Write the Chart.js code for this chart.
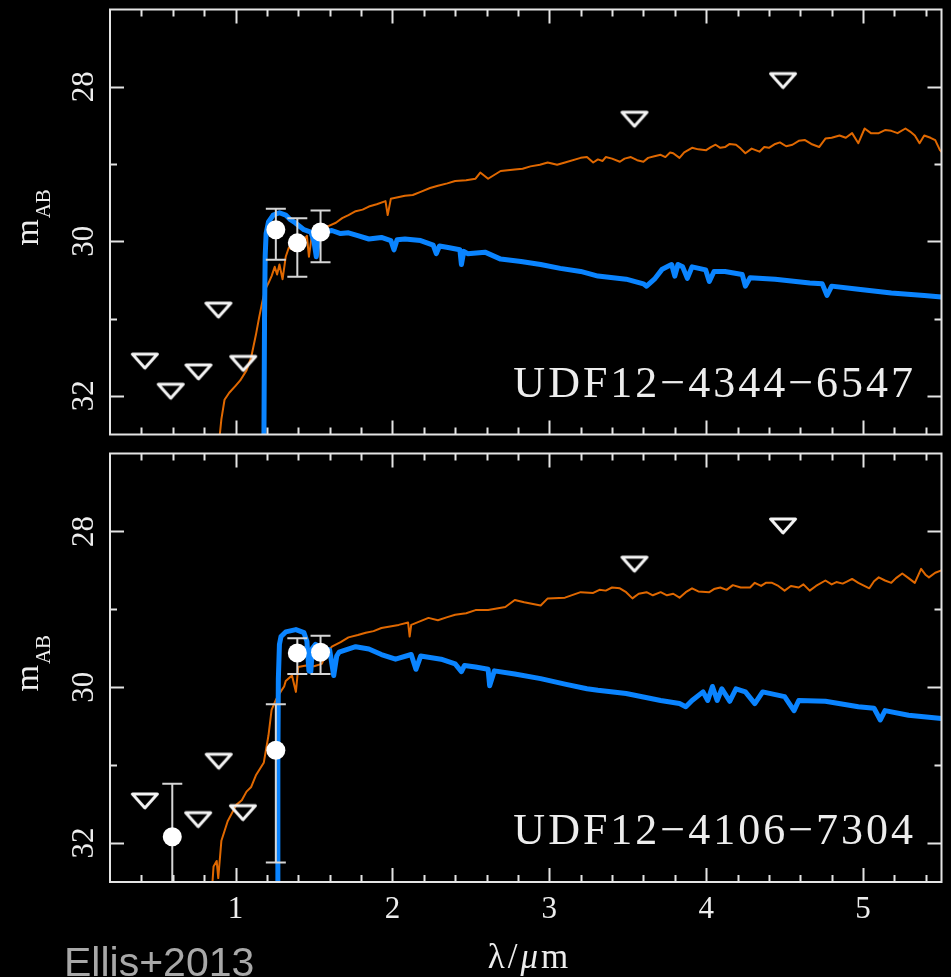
<!DOCTYPE html>
<html>
<head>
<meta charset="utf-8">
<title>UDF12 SED fits</title>
<script src="https://cdn.jsdelivr.net/npm/chart.js@4.4.1/dist/chart.umd.min.js"></script>
<style>
  html, body { margin: 0; padding: 0; background: #000; }
  body { width: 951px; height: 977px; position: relative; overflow: hidden; }
  canvas { position: absolute; left: 0; }
  #top-panel { top: 0; }
  #bottom-panel { top: 444px; }
</style>
</head>
<body>
<canvas id="top-panel" width="951" height="444"></canvas>
<canvas id="bottom-panel" width="951" height="533"></canvas>
<script>
// axis ranges and labelled ticks
const xRange = [0.2, 5.5];
const yRange = [27, 32.5];
const xTickLabels = [1, 2, 3, 4, 5];
const yTickLabels = [28, 30, 32];

// --- UDF12-4344-6547 ---
const topDetLam = [1.257, 1.394, 1.542];
const topDetMag = [29.85, 30.02, 29.88];
const topDetErrLo = [29.58, 29.70, 29.60];
const topDetErrHi = [30.24, 30.46, 30.27];

const topLimLam = [0.422, 0.587, 0.764, 0.891, 1.049, 3.543, 4.49];
const topLimMag = [31.55, 31.94, 31.69, 30.89, 31.58, 28.42, 27.92];

// high-z star forming template
const topBlueLam = [1.180, 1.185, 1.189, 1.195, 1.21, 1.24, 1.28, 1.32, 1.35, 1.38, 1.436, 1.48, 1.50, 1.515, 1.53,
  1.544, 1.614, 1.67, 1.72, 1.785, 1.85, 1.93, 1.99, 2.01, 2.03, 2.08, 2.18, 2.26, 2.28, 2.30, 2.355, 2.43, 2.44,
  2.455, 2.48, 2.59, 2.69, 2.82, 2.945, 3.07, 3.20, 3.31, 3.49, 3.60, 3.62, 3.67, 3.72, 3.76, 3.78, 3.80, 3.82,
  3.85, 3.88, 3.91, 3.997, 4.02, 4.05, 4.12, 4.23, 4.25, 4.28, 4.44, 4.66, 4.74, 4.77, 4.80, 4.97, 5.18, 5.39, 5.5];
const topBlueMag = [33.0, 31.0, 30.2, 29.9, 29.75, 29.66, 29.63, 29.66, 29.72, 29.76, 29.85, 29.88, 30.0, 30.2, 29.95,
  29.89, 29.86, 29.90, 29.89, 29.93, 29.97, 29.95, 29.99, 30.11, 29.98, 29.97, 29.99, 30.05, 30.16, 30.06, 30.08, 30.11, 30.30,
  30.13, 30.16, 30.14, 30.23, 30.26, 30.30, 30.35, 30.39, 30.45, 30.49, 30.55, 30.58, 30.49, 30.36, 30.32, 30.30, 30.45, 30.30,
  30.33, 30.48, 30.33, 30.37, 30.52, 30.39, 30.39, 30.43, 30.58, 30.47, 30.49, 30.54, 30.55, 30.70, 30.58, 30.62, 30.67, 30.70, 30.72];

// low-z evolved template
const topOrangeLam = [0.895, 0.91, 0.93, 0.96, 1.00, 1.03, 1.07, 1.10, 1.13, 1.15, 1.17, 1.19, 1.21, 1.23, 1.25, 1.265,
  1.28, 1.30, 1.32, 1.34, 1.37, 1.40, 1.455, 1.468, 1.487, 1.54, 1.595, 1.64, 1.68, 1.72, 1.766, 1.81, 1.85, 1.90, 1.956,
  1.97, 1.99, 2.08, 2.13, 2.18, 2.24, 2.29, 2.35, 2.40, 2.47, 2.53, 2.56, 2.61, 2.69, 2.78, 2.83, 2.88, 2.94, 2.99, 3.05,
  3.10, 3.20, 3.24, 3.28, 3.31, 3.34, 3.36, 3.40, 3.45, 3.48, 3.52, 3.56, 3.60, 3.63, 3.67, 3.71, 3.74, 3.77, 3.79, 3.83,
  3.86, 3.91, 3.95, 4.00, 4.03, 4.06, 4.09, 4.12, 4.15, 4.19, 4.22, 4.25, 4.29, 4.34, 4.37, 4.40, 4.44, 4.47, 4.51, 4.55,
  4.59, 4.63, 4.67, 4.72, 4.76, 4.80, 4.85, 4.89, 4.93, 4.97, 5.01, 5.05, 5.10, 5.14, 5.18, 5.22, 5.27, 5.30, 5.33, 5.36,
  5.39, 5.43, 5.46, 5.49, 5.5];
const topOrangeMag = [32.6, 32.3, 32.05, 31.96, 31.87, 31.80, 31.67, 31.50, 31.21, 30.99, 30.79, 30.62, 30.54, 30.45, 30.33, 30.43,
  30.30, 30.49, 30.20, 30.08, 30.11, 30.08, 29.93, 30.20, 29.91, 29.86, 29.80, 29.76, 29.70, 29.66, 29.61, 29.59, 29.55, 29.52, 29.48,
  29.66, 29.45, 29.41, 29.40, 29.36, 29.31, 29.28, 29.25, 29.22, 29.21, 29.19, 29.11, 29.19, 29.09, 29.07, 29.06, 29.03, 29.01, 28.98, 29.01,
  28.98, 28.92, 28.91, 28.98, 28.94, 28.96, 28.91, 28.93, 28.97, 28.93, 28.91, 28.95, 28.97, 28.92, 28.90, 28.88, 28.91, 28.85, 28.86, 28.92,
  28.85, 28.79, 28.81, 28.82, 28.78, 28.75, 28.79, 28.78, 28.74, 28.75, 28.80, 28.86, 28.80, 28.84, 28.78, 28.79, 28.74, 28.72, 28.77, 28.75,
  28.70, 28.69, 28.74, 28.78, 28.67, 28.66, 28.63, 28.66, 28.60, 28.73, 28.54, 28.60, 28.60, 28.56, 28.57, 28.60, 28.54, 28.58, 28.63, 28.73,
  28.63, 28.66, 28.69, 28.82, 28.84];

// --- UDF12-4106-7304 ---
const botDetLam = [0.597, 1.257, 1.394, 1.542];
const botDetMag = [31.92, 30.81, 29.56, 29.55];
const botDetErrLo = [31.24, 30.22, 29.37, 29.34];
const botDetErrHi = [33.5, 32.25, 29.83, 29.83];

const botLimLam = [0.422, 0.762, 0.893, 1.047, 3.543, 4.49];
const botLimMag = [31.46, 31.70, 30.95, 31.61, 28.42, 27.93];

const botBlueLam = [1.268, 1.270, 1.273, 1.28, 1.29, 1.32, 1.385, 1.436, 1.455, 1.468, 1.48, 1.49, 1.51, 1.544, 1.60,
  1.626, 1.645, 1.66, 1.766, 1.85, 1.93, 2.02, 2.12, 2.15, 2.18, 2.31, 2.40, 2.44, 2.46, 2.53, 2.61, 2.62, 2.65, 2.78,
  2.945, 3.10, 3.24, 3.31, 3.49, 3.71, 3.83, 3.87, 3.91, 3.98, 4.01, 4.04, 4.07, 4.10, 4.15, 4.19, 4.25, 4.31, 4.36,
  4.50, 4.56, 4.59, 4.76, 4.97, 5.07, 5.11, 5.14, 5.29, 5.5];
const botBlueMag = [33.0, 31.0, 29.9, 29.45, 29.35, 29.29, 29.26, 29.30, 29.41, 29.79, 29.80, 29.50, 29.45, 29.49, 29.52,
  29.85, 29.60, 29.55, 29.48, 29.51, 29.58, 29.64, 29.58, 29.77, 29.60, 29.64, 29.70, 29.80, 29.72, 29.74, 29.77, 29.98, 29.79, 29.83,
  29.89, 29.96, 30.02, 30.04, 30.08, 30.17, 30.21, 30.25, 30.17, 30.06, 30.17, 29.99, 30.17, 30.02, 30.18, 30.02, 30.06, 30.21, 30.06,
  30.12, 30.30, 30.17, 30.18, 30.25, 30.27, 30.42, 30.30, 30.36, 30.40];

const botOrangeLam = [0.85, 0.86, 0.88, 0.89, 0.91, 0.95, 1.005, 1.04, 1.07, 1.10, 1.13, 1.18, 1.21, 1.23, 1.26, 1.29,
  1.31, 1.32, 1.36, 1.385, 1.40, 1.45, 1.50, 1.55, 1.575, 1.614, 1.67, 1.72, 1.78, 1.83, 1.88, 1.93, 2.04, 2.10, 2.11,
  2.12, 2.23, 2.29, 2.35, 2.40, 2.47, 2.53, 2.61, 2.72, 2.78, 2.84, 2.945, 2.99, 3.10, 3.20, 3.28, 3.32, 3.36, 3.40,
  3.45, 3.49, 3.53, 3.57, 3.62, 3.66, 3.71, 3.75, 3.79, 3.83, 3.87, 3.91, 3.95, 4.02, 4.05, 4.09, 4.13, 4.17, 4.22,
  4.28, 4.31, 4.35, 4.38, 4.42, 4.46, 4.50, 4.54, 4.59, 4.62, 4.66, 4.70, 4.76, 4.80, 4.83, 4.87, 4.90, 4.93, 4.97,
  5.04, 5.07, 5.10, 5.14, 5.18, 5.21, 5.25, 5.29, 5.33, 5.37, 5.40, 5.42, 5.46, 5.5];
const botOrangeMag = [32.6, 32.3, 32.23, 32.45, 31.97, 31.72, 31.51, 31.45, 31.34, 31.28, 31.13, 30.97, 30.62, 30.29, 30.15, 30.05,
  29.99, 29.92, 29.85, 30.06, 29.74, 29.72, 29.73, 29.70, 29.58, 29.48, 29.42, 29.36, 29.33, 29.30, 29.28, 29.24, 29.20, 29.17, 29.35,
  29.20, 29.11, 29.14, 29.10, 29.07, 29.05, 29.01, 29.01, 28.97, 28.88, 28.91, 28.95, 28.86, 28.85, 28.78, 28.79, 28.75, 28.76, 28.72,
  28.73, 28.78, 28.86, 28.80, 28.78, 28.82, 28.78, 28.82, 28.80, 28.85, 28.78, 28.73, 28.77, 28.78, 28.74, 28.72, 28.75, 28.69, 28.72,
  28.72, 28.66, 28.70, 28.66, 28.66, 28.70, 28.76, 28.70, 28.72, 28.68, 28.76, 28.70, 28.63, 28.68, 28.65, 28.67, 28.64, 28.61, 28.66,
  28.73, 28.64, 28.59, 28.63, 28.66, 28.60, 28.54, 28.60, 28.66, 28.48, 28.56, 28.59, 28.53, 28.50];

const FRAME = '#e4e4e4';
const TEXT = '#ededed';
const SERIF = '"Liberation Serif", "DejaVu Serif", serif';

const toPoints = (lam, mag) => lam.map((x, i) => ({ x, y: mag[i] }));

// flattened downward triangle used for the upper limits
const makeLimitMarker = () => {
    const c = document.createElement('canvas');
    c.width = 30;
    c.height = 20;
    const ctx = c.getContext('2d');
    ctx.strokeStyle = '#f4f4f4';
    ctx.lineWidth = 3;
    ctx.lineJoin = 'round';
    ctx.beginPath();
    ctx.moveTo(2.5, 3);
    ctx.lineTo(27.5, 3);
    ctx.lineTo(15, 17);
    ctx.closePath();
    ctx.stroke();
    return c;
};
const limitMarker = makeLimitMarker();

// error bars go under the white points but above the model spectra
const errorBars = {
    id: 'errorBars',
    beforeDatasetDraw(chart, args) {
        const ds = chart.data.datasets[args.index];
        if (!ds.errLo) return;
        const { ctx, chartArea, scales } = chart;
        ctx.save();
        ctx.beginPath();
        ctx.rect(chartArea.left, chartArea.top, chartArea.right - chartArea.left, chartArea.bottom - chartArea.top);
        ctx.clip();
        ctx.strokeStyle = '#d6d6d6';
        ctx.lineWidth = 2;
        ds.data.forEach((p, i) => {
            const px = scales.x.getPixelForValue(p.x);
            const y1 = scales.y.getPixelForValue(ds.errLo[i]);
            const y2 = scales.y.getPixelForValue(ds.errHi[i]);
            ctx.beginPath();
            ctx.moveTo(px, y1);
            ctx.lineTo(px, y2);
            ctx.moveTo(px - 10, y1);
            ctx.lineTo(px + 10, y1);
            ctx.moveTo(px - 10, y2);
            ctx.lineTo(px + 10, y2);
            ctx.stroke();
        });
        ctx.restore();
    }
};

// box, inward ticks on all four sides, rotated y labels and the object name
const sedFrame = {
    id: 'sedFrame',
    afterDatasetsDraw(chart, args, opts) {
        const { ctx, chartArea: a, scales: { x, y } } = chart;
        ctx.save();
        ctx.strokeStyle = FRAME;
        ctx.lineWidth = 2;
        ctx.strokeRect(a.left, a.top, a.right - a.left, a.bottom - a.top);

        ctx.beginPath();
        for (let k = 1; k < 27; k++) {
            const v = xRange[0] + 0.2 * k;
            const len = Math.abs(v - Math.round(v)) < 1e-6 ? 14 : 7;
            const px = Math.round(x.getPixelForValue(v)) + 0.5;
            ctx.moveTo(px, a.top);
            ctx.lineTo(px, a.top + len);
            ctx.moveTo(px, a.bottom);
            ctx.lineTo(px, a.bottom - len);
        }
        for (let m = 28; m <= 32; m++) {
            const len = m % 2 === 0 ? 14 : 7;
            const py = Math.round(y.getPixelForValue(m)) + 0.5;
            ctx.moveTo(a.left, py);
            ctx.lineTo(a.left + len, py);
            ctx.moveTo(a.right, py);
            ctx.lineTo(a.right - len, py);
        }
        ctx.stroke();

        ctx.fillStyle = TEXT;
        ctx.font = '31px ' + SERIF;
        ctx.textAlign = 'center';
        ctx.textBaseline = 'alphabetic';
        yTickLabels.forEach(v => {
            ctx.save();
            ctx.translate(93, y.getPixelForValue(v));
            ctx.rotate(-Math.PI / 2);
            ctx.fillText(String(v), 0, 0);
            ctx.restore();
        });

        // m_AB
        const cy = (a.top + a.bottom) / 2 - 4;
        ctx.save();
        ctx.translate(38, cy);
        ctx.rotate(-Math.PI / 2);
        ctx.textAlign = 'left';
        ctx.font = '34px ' + SERIF;
        const wm = ctx.measureText('m').width;
        ctx.font = '21px ' + SERIF;
        const wab = ctx.measureText('AB').width;
        const x0 = -(wm + wab) / 2;
        ctx.font = '34px ' + SERIF;
        ctx.fillText('m', x0, 0);
        ctx.font = '21px ' + SERIF;
        ctx.fillText('AB', x0 + wm + 1, 12);
        ctx.restore();

        // object name
        ctx.font = '44px ' + SERIF;
        ctx.textAlign = 'right';
        ctx.letterSpacing = '3px';
        ctx.fillText(opts.name, 916, a.bottom - 38);
        ctx.letterSpacing = '0px';

        if (opts.xLabels) {
            ctx.font = '31px ' + SERIF;
            ctx.textAlign = 'center';
            xTickLabels.forEach(v => {
                ctx.fillText(String(v), x.getPixelForValue(v), a.bottom + 36);
            });
            // lambda / mu m
            ctx.textAlign = 'left';
            const parts = [['λ', ''], ['/', ''], ['μ', 'italic '], ['m', '']];
            const gap = 3;
            let total = 0;
            parts.forEach(([t, st]) => { ctx.font = st + '35px ' + SERIF; total += ctx.measureText(t).width + gap; });
            let tx = 528 - (total - gap) / 2;
            parts.forEach(([t, st]) => {
                ctx.font = st + '35px ' + SERIF;
                ctx.fillText(t, tx, a.bottom + 86);
                tx += ctx.measureText(t).width + gap;
            });
            // credit line
            ctx.font = '41px "Liberation Sans", Arial, sans-serif';
            ctx.fillStyle = '#a8a8a8';
            ctx.fillText('Ellis+2013', 64, a.bottom + 94);
        }
        ctx.restore();
    }
};

const buildPanel = (canvas, pad, name, xLabels, det, errLo, errHi, lim, blue, orange) => new Chart(canvas, {
    type: 'scatter',
    data: {
        datasets: [
            {
                data: det,
                errLo: errLo,
                errHi: errHi,
                pointStyle: 'circle',
                pointRadius: 9.5,
                backgroundColor: '#ffffff',
                borderColor: '#ffffff',
                borderWidth: 0
            },
            {
                data: lim,
                pointStyle: limitMarker
            },
            {
                data: blue,
                showLine: true,
                pointRadius: 0,
                borderColor: '#0a84ff',
                borderWidth: 5,
                borderJoinStyle: 'round'
            },
            {
                data: orange,
                showLine: true,
                pointRadius: 0,
                borderColor: '#e06800',
                borderWidth: 2,
                borderJoinStyle: 'round'
            }
        ]
    },
    options: {
        responsive: false,
        devicePixelRatio: 1,
        animation: false,
        events: [],
        layout: { padding: pad },
        scales: {
            x: { type: 'linear', display: false, min: xRange[0], max: xRange[1] },
            y: { type: 'linear', display: false, min: yRange[0], max: yRange[1], reverse: true }
        },
        plugins: {
            legend: { display: false },
            tooltip: { enabled: false },
            sedFrame: { name: name, xLabels: xLabels }
        }
    },
    plugins: [errorBars, sedFrame]
});

buildPanel(
    document.getElementById('top-panel'),
    { left: 110, top: 7, right: 5, bottom: 3 },
    'UDF12\u22124344\u22126547', false,
    toPoints(topDetLam, topDetMag), topDetErrLo, topDetErrHi,
    toPoints(topLimLam, topLimMag),
    toPoints(topBlueLam, topBlueMag),
    toPoints(topOrangeLam, topOrangeMag)
);

buildPanel(
    document.getElementById('bottom-panel'),
    { left: 110, top: 3, right: 5, bottom: 95 },
    'UDF12\u22124106\u22127304', true,
    toPoints(botDetLam, botDetMag), botDetErrLo, botDetErrHi,
    toPoints(botLimLam, botLimMag),
    toPoints(botBlueLam, botBlueMag),
    toPoints(botOrangeLam, botOrangeMag)
);
</script>
</body>
</html>
